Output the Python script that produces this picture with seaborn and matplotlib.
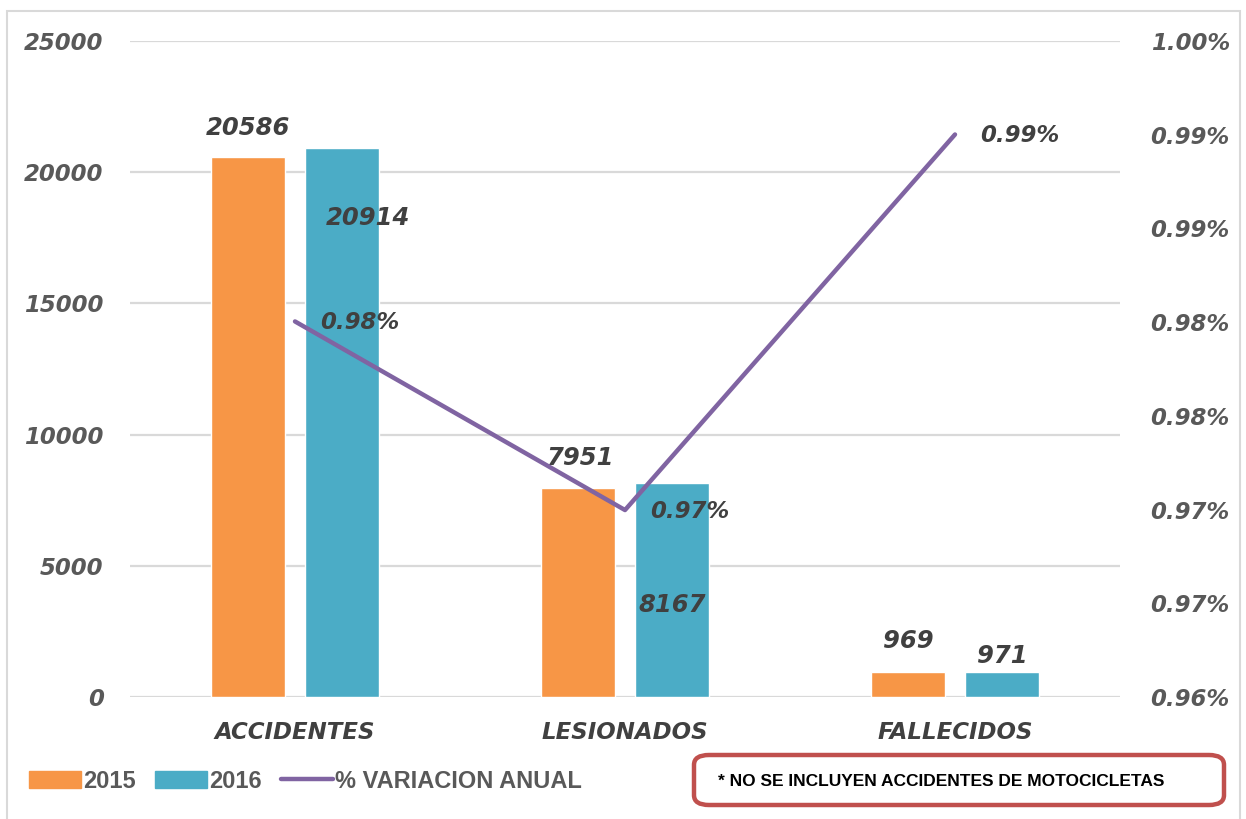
import numpy as np
import pandas as pd
import matplotlib
matplotlib.use("Agg")
import matplotlib.pyplot as plt
import matplotlib.patches as mpatches
from matplotlib.lines import Line2D
import seaborn as sns

# ── data ─────────────────────────────────────────────────────────────────────
categories = ["ACCIDENTES", "LESIONADOS", "FALLECIDOS"]
years = ["2015", "2016"]
values_2015 = [20586, 7951, 969]
values_2016 = [20914, 8167, 971]
variacion = [0.9829, 0.9714, 0.9943]          # % variación anual (eje derecho)
variacion_labels = ["0.98%", "0.97%", "0.99%"]
note_text = "* NO SE INCLUYEN ACCIDENTES DE MOTOCICLETAS"

# ── style ────────────────────────────────────────────────────────────────────
sns.set_theme(style="white")
plt.rcParams["font.family"] = ["DejaVu Sans"]

C_2015 = "#F79646"
C_2016 = "#4BACC6"
C_LINE = "#8064A2"
C_TEXT = "#404040"
C_TICK = "#595959"
C_GRID = "#D9D9D9"

df = pd.DataFrame({
    "categoria": categories * 2,
    "anio": [years[0]] * 3 + [years[1]] * 3,
    "valor": values_2015 + values_2016,
})

fig = plt.figure(figsize=(12.46, 8.19), dpi=100)
ax = fig.add_axes([130 / 1246, 1 - 697 / 819, 990 / 1246, 656 / 819])

sns.barplot(data=df, x="categoria", y="valor", hue="anio",
            palette=[C_2015, C_2016], saturation=1, width=0.57, gap=0.214,
            ax=ax, legend=False, zorder=3)

ax.set_xlim(-0.5, 2.5)
ax.set_ylim(0, 25000)
ax.set_yticks(np.arange(0, 25001, 5000))
ax.yaxis.grid(True, color=C_GRID, lw=1.6, zorder=0)
ax.set_axisbelow(True)
for s in ax.spines.values():
    s.set_visible(False)
ax.set_xlabel("")
ax.set_ylabel("")
ax.tick_params(axis="y", length=0, pad=19, labelsize=16.5, labelcolor=C_TICK)
ax.tick_params(axis="x", length=0, pad=17, labelsize=16.5, labelcolor=C_TEXT)
for t in ax.get_yticklabels():
    t.set_fontweight("bold"); t.set_fontstyle("italic")
for t in ax.get_xticklabels():
    t.set_fontweight("bold"); t.set_fontstyle("italic")

# bar value labels (offsets in points, mimicking the original placement)
lab_kw = dict(fontsize=17.5, fontweight="bold", fontstyle="italic", color=C_TEXT,
              ha="center", va="center")
offs_2015 = [(0, 21), (1, 22), (0, 22)]
offs_2016 = [(19, -50), (0, -88), (0, 11)]
for i in range(3):
    ax.annotate(str(values_2015[i]), (i - 0.1425, values_2015[i]),
                xytext=offs_2015[i], textcoords="offset points", **lab_kw)
    ax.annotate(str(values_2016[i]), (i + 0.1425, values_2016[i]),
                xytext=offs_2016[i], textcoords="offset points", **lab_kw)

# secondary axis: % variación
ax2 = ax.twinx()
sns.lineplot(x=np.arange(len(categories)), y=variacion, ax=ax2,
             color=C_LINE, lw=3.2, zorder=5)
ax2.set_ylim(0.96, 1.00)
ax2.set_yticks(np.linspace(0.96, 1.00, 8))
ax2.set_yticklabels([f"{v:.2f}%" for v in np.linspace(0.96, 1.00, 8)])
ax2.tick_params(axis="y", length=0, pad=22, labelsize=16.5, labelcolor=C_TICK)
for t in ax2.get_yticklabels():
    t.set_fontweight("bold"); t.set_fontstyle("italic")
for s in ax2.spines.values():
    s.set_visible(False)
ax2.grid(False)
ax2.set_ylabel("")
for i in range(3):
    ax2.annotate(variacion_labels[i], (i, variacion[i]), xytext=(18, -1),
                 textcoords="offset points", fontsize=16.5, fontweight="bold",
                 fontstyle="italic", color=C_TEXT, ha="left", va="center")

# outer chart border
fig.patches.append(mpatches.Rectangle((7 / 1246, -0.01), 1233 / 1246, 1 - 11 / 819 + 0.01,
                                      transform=fig.transFigure, fill=False,
                                      ec=C_GRID, lw=1.5))

# legend
handles = [mpatches.Patch(color=C_2015, label="2015"),
           mpatches.Patch(color=C_2016, label="2016"),
           Line2D([0], [0], color=C_LINE, lw=3.2, label="% VARIACION ANUAL")]
leg = fig.legend(handles=handles, loc="center left", ncol=3, frameon=False,
                 bbox_to_anchor=(8 / 1246, 1 - 781 / 819),
                 prop={"family": "Liberation Sans", "weight": "bold", "size": 17},
                 handlelength=2.2, handleheight=0.7, handletextpad=0.1,
                 columnspacing=0.8)
for t in leg.get_texts():
    t.set_color(C_TICK)

# note box
fig.patches.append(mpatches.FancyBboxPatch((694 / 1246, 1 - 805 / 819), 530 / 1246, 50 / 819,
                                           boxstyle="round,pad=0,rounding_size=0.012",
                                           transform=fig.transFigure, fc="white",
                                           ec="#C0504D", lw=3.2))
fig.text(718 / 1246, 1 - 781 / 819, note_text, ha="left", va="center",
         fontsize=12.5, fontweight="bold", color="black", family="Liberation Sans")

fig.savefig("out.png", dpi=100)
